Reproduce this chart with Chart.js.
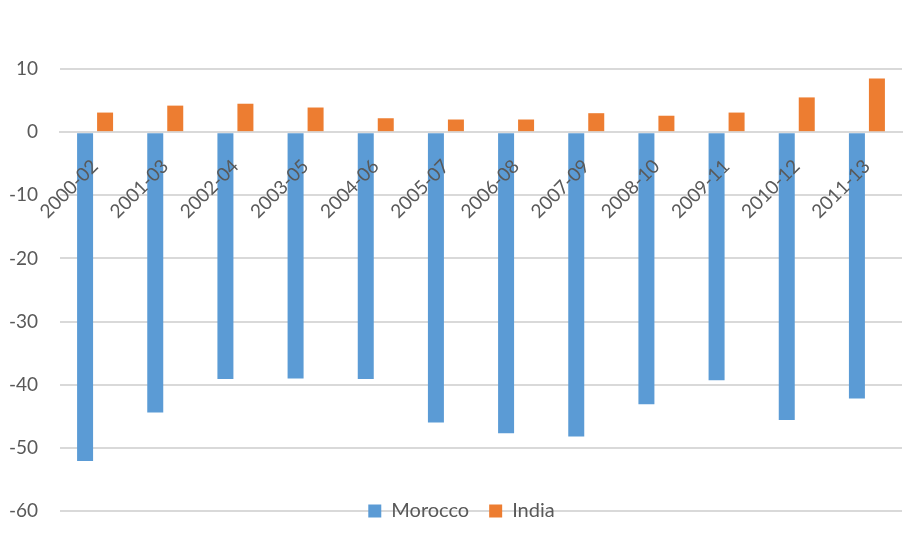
<!DOCTYPE html>
<html>
<head>
<meta charset="utf-8">
<script src="https://cdn.jsdelivr.net/npm/chart.js@4"></script>
<style>
  html, body { margin: 0; padding: 0; background: #ffffff; }
  #c { display: block; }
</style>
</head>
<body>
<canvas id="c" width="923" height="542"></canvas>
<script>
const categories = ["2000-02","2001-03","2002-04","2003-05","2004-06","2005-07","2006-08","2007-09","2008-10","2009-11","2010-12","2011-13"];
const morocco = [-52.1, -44.4, -39.1, -39.0, -39.1, -46.0, -47.7, -48.2, -43.1, -39.3, -45.6, -42.2];
const india = [3.1, 4.2, 4.5, 3.9, 2.2, 2.0, 2.0, 3.0, 2.6, 3.1, 5.5, 8.5];
const seriesNames = ["Morocco", "India"];

const FONT = "Lato, 'Open Sans', sans-serif";
const TEXT = "#595959";
const GRID = "#D9D9D9";

// Centres the legend row on the bottom edge of the plot and across the whole canvas (as in the reference)
const legendOnBottomLine = {
  id: 'legendOnBottomLine',
  afterUpdate(chart) {
    const lg = chart.legend;
    if (!lg || !lg.legendHitBoxes || !lg.legendHitBoxes.length) return;
    lg.left = 0;
    lg.right = chart.width;
    lg.width = chart.width;
    const hb = lg.legendHitBoxes[0];
    const dy = (hb.top + hb.height / 2) - chart.chartArea.bottom;
    lg.top -= dy;
    lg.bottom -= dy;
    lg.legendHitBoxes.forEach(h => { h.top -= dy; });
  }
};

new Chart(document.getElementById('c'), {
  type: 'bar',
  data: {
    labels: categories,
    datasets: [
      { label: seriesNames[0], data: morocco, backgroundColor: '#5B9BD5', categoryPercentage: 0.57, barPercentage: 0.8 },
      { label: seriesNames[1], data: india, backgroundColor: '#ED7D31', categoryPercentage: 0.57, barPercentage: 0.8 }
    ]
  },
  options: {
    responsive: false,
    animation: false,
    devicePixelRatio: 1,
    layout: { padding: { top: 69, left: 0, right: 21, bottom: -19 } },
    scales: {
      x: {
        position: { y: 0 },
        grid: { display: false, drawTicks: false },
        border: { display: true, color: GRID, width: 2 },
        afterFit(scale) { scale.paddingLeft = 0; scale.paddingRight = 0; },
        ticks: {
          z: 1,
          minRotation: 45, maxRotation: 45, padding: 23,
          color: TEXT, font: { family: FONT, size: 19 }
        }
      },
      y: {
        min: -60, max: 10,
        grid: { color: GRID, lineWidth: 2, drawTicks: false },
        border: { display: false },
        afterFit(scale) { scale.width = 60; scale.paddingTop = 0; scale.paddingBottom = 0; },
        ticks: { stepSize: 10, padding: 22, color: TEXT, font: { family: FONT, size: 19 } }
      }
    },
    plugins: {
      legend: {
        position: 'bottom',
        labels: { boxWidth: 13, boxHeight: 13, padding: 20, color: TEXT, font: { family: FONT, size: 20 } }
      },
      tooltip: { enabled: false }
    }
  },
  plugins: [legendOnBottomLine]
});
</script>
</body>
</html>
